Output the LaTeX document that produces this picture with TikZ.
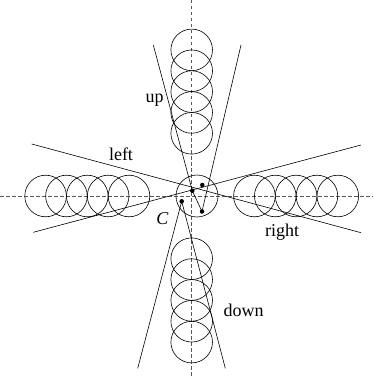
\documentclass[tikz,border=0pt]{standalone}
\usepackage{fontspec}
\setmainfont{Liberation Serif}
\begin{document}
\begin{tikzpicture}[x=1pt,y=-1pt,
  ring/.style={draw,line width=0.6pt},
  ray/.style={draw,line width=0.6pt},
  axis/.style={draw=black!65,dash pattern=on 3.5pt off 2.5pt,line width=0.8pt},
  lbl/.style={font=\fontsize{18}{20}\selectfont,anchor=base,inner sep=0pt},
  dotn/.style={circle,fill=black,inner sep=0pt,minimum size=4.5pt}]
\useasboundingbox (0,0) rectangle (373,377);
% axes
\coordinate (O) at (191.7,196);
\draw[axis] (191.7,0) -- (191.7,377);
\draw[axis] (0,196) -- (373,196);
% circle chains
\foreach \k in {0,...,4} {
  \pgfmathsetmacro{\d}{62.7+\k*20.85}
  \draw[ring] ([yshift=\d pt]O) circle[radius=20.8pt];
  \draw[ring] ([yshift=-\d pt]O) circle[radius=20.8pt];
  \draw[ring] ([xshift=-\d pt]O) circle[radius=20.8pt];
  \draw[ring] ([xshift=\d pt]O) circle[radius=20.8pt];
}
% central component C
\node[draw,circle,line width=0.6pt,minimum size=42pt,inner sep=0pt] (C) at (197,196) {};
% points of C
\node[dotn] (p1) at (202.3,185) {};
\node[dotn] (p2) at (192.3,190.7) {};
\node[dotn] (p3) at (181.7,201.3) {};
\node[dotn] (p4) at (202,211.5) {};
% ray ends
\coordinate (u1) at (153.3,45);
\coordinate (u2) at (241,45);
\coordinate (d1) at (137.7,368.3);
\coordinate (d2) at (225.3,368.3);
\coordinate (l1) at (31.7,144);
\coordinate (l2) at (33.3,232.3);
\coordinate (r1) at (361,145);
\coordinate (r2) at (361,232.7);
% wedges
\draw[ray] (u1) -- (p2.center) -- (p4.center) -- (u2);
\draw[ray] (d1) -- (p3.center) -- (d2);
\draw[ray] (l1) -- (r2);
\draw[ray] (l2) -- (r1);
% labels
\node[lbl] (tup) at (154.5,102.7) {up};
\node[lbl] (tleft) at (121,160) {left};
\node[lbl] (tright) at (282.2,236.5) {right};
\node[lbl] (tdown) at (243.5,316) {down};
\node[lbl] (tC) at (162.3,224.3) {\itshape C};
\end{tikzpicture}
\end{document}
